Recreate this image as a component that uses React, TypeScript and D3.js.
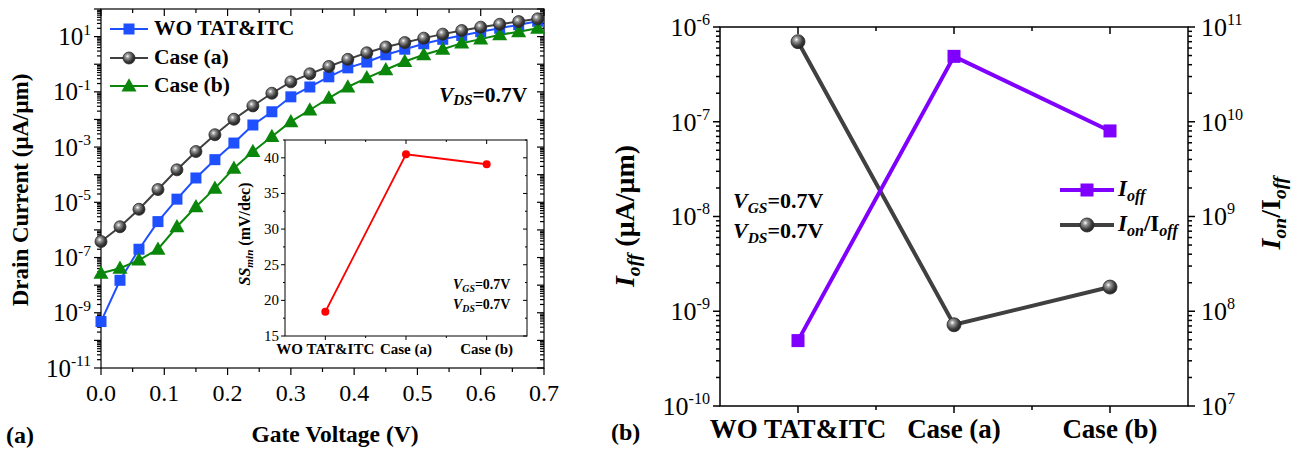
import * as d3 from 'd3';

// ---- panel (a): transfer curves ----
const gateVoltage = [0, 0.03, 0.06, 0.09, 0.12, 0.15, 0.18, 0.21, 0.24, 0.27, 0.3, 0.33,
    0.36, 0.39, 0.42, 0.45, 0.48, 0.51, 0.54, 0.57, 0.6, 0.63, 0.66, 0.69];
const woTatItc = [4.8e-10, 1.5e-8, 2e-7, 2e-6, 1.3e-5, 7.6e-5, 3.5e-4, 1.4e-3, 6.3e-3, 0.019, 0.066, 0.15,
    0.35, 0.74, 1.2, 2.2, 3.5, 5.5, 8, 11, 15, 20, 27, 36];
const caseA = [3.8e-7, 1.3e-6, 5.6e-6, 2.9e-5, 1.5e-4, 6.9e-4, 2.8e-3, 0.0102, 0.031, 0.089, 0.23, 0.45,
    0.83, 1.5, 2.6, 4.2, 6.1, 8.8, 12.3, 16.6, 22, 28, 35, 44];
const caseB = [2.7e-8, 4.1e-8, 8.1e-8, 2e-7, 1.3e-6, 6.9e-6, 3.2e-5, 1.7e-4, 6.9e-4, 2.4e-3, 8.3e-3, 0.022,
    0.059, 0.15, 0.32, 0.63, 1.25, 2.2, 3.5, 5.8, 8.1, 11.7, 15, 20];
const xTicksA = [0, 0.1, 0.2, 0.3, 0.4, 0.5, 0.6, 0.7];
const yLabelExpA = [1, -1, -3, -5, -7, -9, -11];

// ---- inset: SS_min ----
const cases = ['WO TAT&ITC', 'Case (a)', 'Case (b)'];
const ssMin = [18.4, 40.5, 39.1];
const insetTicks = [15, 20, 25, 30, 35, 40];

// ---- panel (b): Ioff and Ion/Ioff ----
const iOff = [4.9e-10, 4.9e-7, 8e-8];
const onOffRatio = [7e10, 7.2e7, 1.8e8];
const leftExpB = [-6, -7, -8, -9, -10];
const rightExpB = [11, 10, 9, 8, 7];

const FONT = "'Liberation Serif', 'Times New Roman', Tinos, 'DejaVu Serif', serif";
const BLUE = '#1f50ff';
const GREEN = '#0a870a';
const DARK = '#404040';
const PURPLE = '#8000ff';
const RED = '#ff0000';

const A = { x0: 101, x1: 544, y0: 9, y1: 368 };
const INSET = { x0: 285, x1: 527, y0: 140, y1: 336 };
const B = { x0: 720, x1: 1188, y0: 27, y1: 406 };

const decadeMinors = (lo: number, hi: number) => {
    const out: number[] = [];
    for (let e = lo; e < hi; e++) for (let k = 2; k <= 9; k++) out.push(k * Math.pow(10, e));
    return out;
};

// "10^e" label whose digits are vertically centred on y
const Pow = ({ x, y, e, size, anchor }: { x: number; y: number; e: number; size: number; anchor: string }) => (
    <text x={x} y={y + size * 0.34} fontSize={size} textAnchor={anchor}>
        10<tspan dy={-size * 0.42} fontSize={size * 0.62}>{e}</tspan>
    </text>
);

// italic symbol with italic subscript, optional text back on the baseline
const Sub = ({ main, sub, size, after, italicMain = true }:
    { main: string; sub: string; size: number; after?: string; italicMain?: boolean }) => (
    <>
        <tspan fontStyle={italicMain ? 'italic' : 'normal'}>{main}</tspan>
        <tspan dy={size * 0.25} fontSize={size * 0.7} fontStyle="italic">{sub}</tspan>
        {after ? <tspan dy={-size * 0.25}>{after}</tspan> : null}
    </>
);

const Sphere = ({ cx, cy, r }: { cx: number; cy: number; r: number }) => (
    <circle cx={cx} cy={cy} r={r} fill="url(#sphere)" stroke="#2a2a2a" strokeWidth={0.8} />
);

const Square = ({ cx, cy, s, fill }: { cx: number; cy: number; s: number; fill: string }) => (
    <rect x={cx - s / 2} y={cy - s / 2} width={s} height={s} fill={fill} />
);

const Tri = ({ cx, cy, s, fill }: { cx: number; cy: number; s: number; fill: string }) => (
    <path d={`M${cx},${cy - s * 0.6}L${cx + s * 0.58},${cy + s * 0.42}L${cx - s * 0.58},${cy + s * 0.42}Z`} fill={fill} />
);

export default function App() {
    // panel (a) scales
    const xA = d3.scaleLinear().domain([0, 0.7]).range([A.x0, A.x1]);
    const yA = d3.scaleLog().domain([1e-11, 1e2]).range([A.y1, A.y0]);
    const lineA = d3.line<number>().x((_, i) => xA(gateVoltage[i])).y(d => yA(d));
    const minorsA = decadeMinors(-11, 2);
    const majorsA = d3.range(-11, 3).map(e => Math.pow(10, e));

    // inset scales
    const xI = d3.scaleBand().domain(cases).range([INSET.x0, INSET.x1]);
    const xIc = (c: string) => (xI(c) ?? 0) + xI.bandwidth() / 2;
    const yI = d3.scaleLinear().domain([15, 42.5]).range([INSET.y1, INSET.y0]);
    const lineI = d3.line<number>().x((_, i) => xIc(cases[i])).y(d => yI(d));

    // panel (b) scales
    const xB = d3.scaleBand().domain(cases).range([B.x0, B.x1]);
    const xBc = (c: string) => (xB(c) ?? 0) + xB.bandwidth() / 2;
    const yBL = d3.scaleLog().domain([1e-10, 1e-6]).range([B.y1, B.y0]);
    const yBR = d3.scaleLog().domain([1e7, 1e11]).range([B.y1, B.y0]);
    const lineOff = d3.line<number>().x((_, i) => xBc(cases[i])).y(d => yBL(d));
    const lineRatio = d3.line<number>().x((_, i) => xBc(cases[i])).y(d => yBR(d));
    const minorsBL = decadeMinors(-10, -6);
    const minorsBR = decadeMinors(7, 11);
    const bMinorX = [B.x0 + xB.bandwidth(), B.x0 + 2 * xB.bandwidth()];

    return (
        <svg width={1301} height={454}
            style={{ position: 'absolute', left: 0, top: 0, background: '#fff', fontFamily: FONT }}>
            <defs>
                <radialGradient id="sphere" cx="38%" cy="35%" r="65%">
                    <stop offset="0%" stopColor="#ffffff" />
                    <stop offset="25%" stopColor="#9a9a9a" />
                    <stop offset="70%" stopColor="#3c3c3c" />
                    <stop offset="100%" stopColor="#222" />
                </radialGradient>
            </defs>

            {/* ================= panel (a) ================= */}
            <g stroke="#000" strokeWidth={1.2}>
                <rect x={A.x0} y={A.y0} width={A.x1 - A.x0} height={A.y1 - A.y0} fill="none" />
                {xTicksA.map(t => (
                    <g key={t}>
                        <line x1={xA(t)} x2={xA(t)} y1={A.y1} y2={A.y1 + 7} />
                        <line x1={xA(t)} x2={xA(t)} y1={A.y0} y2={A.y0 + 7} />
                    </g>
                ))}
                {xTicksA.slice(0, -1).map(t => (
                    <g key={'m' + t}>
                        <line x1={xA(t + 0.05)} x2={xA(t + 0.05)} y1={A.y1} y2={A.y1 + 4} />
                        <line x1={xA(t + 0.05)} x2={xA(t + 0.05)} y1={A.y0} y2={A.y0 + 4} />
                    </g>
                ))}
                {majorsA.map(v => (
                    <g key={'M' + v}>
                        <line x1={A.x0 - 7} x2={A.x0} y1={yA(v)} y2={yA(v)} />
                        <line x1={A.x1 - 7} x2={A.x1} y1={yA(v)} y2={yA(v)} />
                    </g>
                ))}
                {minorsA.map(v => (
                    <g key={'n' + v}>
                        <line x1={A.x0 - 4} x2={A.x0} y1={yA(v)} y2={yA(v)} />
                        <line x1={A.x1 - 4} x2={A.x1} y1={yA(v)} y2={yA(v)} />
                    </g>
                ))}
            </g>
            {xTicksA.map(t => (
                <text key={'xl' + t} x={xA(t)} y={401} fontSize={24} textAnchor="middle">
                    {t.toFixed(1)}
                </text>
            ))}
            {yLabelExpA.map(e => (
                <Pow key={'yl' + e} x={A.x0 - 10} y={yA(Math.pow(10, e))} e={e} size={25} anchor="end" />
            ))}
            <text x={335} y={437} fontSize={23.5} fontWeight="bold" textAnchor="middle" dominantBaseline="middle">
                Gate Voltage (V)
            </text>
            <text transform="translate(23,190) rotate(-90)" fontSize={23} fontWeight="bold" textAnchor="middle"
                dominantBaseline="middle">
                Drain Current (μA/μm)
            </text>
            <text x={6} y={437} fontSize={24} fontWeight="bold" dominantBaseline="middle">(a)</text>

            {/* curves */}
            <path d={lineA(woTatItc) ?? ''} fill="none" stroke={BLUE} strokeWidth={2} />
            <path d={lineA(caseB) ?? ''} fill="none" stroke={GREEN} strokeWidth={2} />
            <path d={lineA(caseA) ?? ''} fill="none" stroke={DARK} strokeWidth={2} />
            {woTatItc.map((v, i) => <Square key={'b' + i} cx={xA(gateVoltage[i])} cy={yA(v)} s={11} fill={BLUE} />)}
            {caseB.map((v, i) => <Tri key={'g' + i} cx={xA(gateVoltage[i])} cy={yA(v)} s={13} fill={GREEN} />)}
            {caseA.map((v, i) => <Sphere key={'k' + i} cx={xA(gateVoltage[i])} cy={yA(v)} r={6} />)}

            {/* legend (a) */}
            <g fontSize={21.5} fontWeight="bold">
                <line x1={110} x2={148} y1={29} y2={29} stroke={BLUE} strokeWidth={2} />
                <Square cx={129} cy={29} s={11} fill={BLUE} />
                <text x={154} y={30} dominantBaseline="middle">WO TAT&amp;ITC</text>
                <line x1={110} x2={148} y1={58} y2={58} stroke={DARK} strokeWidth={2} />
                <Sphere cx={129} cy={58} r={6} />
                <text x={154} y={59} dominantBaseline="middle">Case (a)</text>
                <line x1={110} x2={148} y1={86} y2={86} stroke={GREEN} strokeWidth={2} />
                <Tri cx={129} cy={86} s={13} fill={GREEN} />
                <text x={154} y={87} dominantBaseline="middle">Case (b)</text>
            </g>
            <text x={439} y={97} fontSize={21.5} fontWeight="bold" dominantBaseline="middle">
                <Sub main="V" sub="DS" size={21.5} after="=0.7V" />
            </text>

            {/* ================= inset ================= */}
            <rect x={INSET.x0} y={INSET.y0} width={INSET.x1 - INSET.x0} height={INSET.y1 - INSET.y0}
                fill="#fff" stroke="#000" strokeWidth={1} />
            <g stroke="#000" strokeWidth={1}>
                {insetTicks.map(t => (
                    <g key={'it' + t}>
                        <line x1={INSET.x0 - 4} x2={INSET.x0} y1={yI(t)} y2={yI(t)} />
                        <line x1={INSET.x1 - 4} x2={INSET.x1} y1={yI(t)} y2={yI(t)} />
                    </g>
                ))}
                {insetTicks.map(t => (
                    <g key={'im' + t}>
                        <line x1={INSET.x0 - 2} x2={INSET.x0} y1={yI(t + 2.5)} y2={yI(t + 2.5)} />
                        <line x1={INSET.x1 - 2} x2={INSET.x1} y1={yI(t + 2.5)} y2={yI(t + 2.5)} />
                    </g>
                ))}
                {cases.map(c => (
                    <g key={'ic' + c}>
                        <line x1={xIc(c)} x2={xIc(c)} y1={INSET.y1} y2={INSET.y1 + 4} />
                        <line x1={xIc(c)} x2={xIc(c)} y1={INSET.y0} y2={INSET.y0 + 4} />
                    </g>
                ))}
                {[INSET.x0 + xI.bandwidth(), INSET.x0 + 2 * xI.bandwidth()].map(x => (
                    <g key={'icm' + x}>
                        <line x1={x} x2={x} y1={INSET.y1} y2={INSET.y1 + 2} />
                        <line x1={x} x2={x} y1={INSET.y0} y2={INSET.y0 + 2} />
                    </g>
                ))}
            </g>
            {insetTicks.map(t => (
                <text key={'itl' + t} x={INSET.x0 - 6} y={yI(t) + 5} fontSize={15} textAnchor="end">{t}</text>
            ))}
            {cases.map(c => (
                <text key={'icl' + c} x={xIc(c)} y={351} fontSize={15} fontWeight="bold" textAnchor="middle"
                    dominantBaseline="middle">{c}</text>
            ))}
            <text transform="translate(246,234) rotate(-90)" fontSize={16} fontWeight="bold" textAnchor="middle"
                dominantBaseline="middle">
                <Sub main="SS" sub="min" size={16} after=" (mV/dec)" />
            </text>
            <path d={lineI(ssMin) ?? ''} fill="none" stroke={RED} strokeWidth={1.8} />
            {ssMin.map((v, i) => <circle key={'r' + i} cx={xIc(cases[i])} cy={yI(v)} r={4} fill={RED} />)}
            <g fontSize={14} fontWeight="bold">
                <text x={453} y={286} dominantBaseline="middle">
                    <Sub main="V" sub="GS" size={14} after="=0.7V" />
                </text>
                <text x={453} y={306} dominantBaseline="middle">
                    <Sub main="V" sub="DS" size={14} after="=0.7V" />
                </text>
            </g>

            {/* ================= panel (b) ================= */}
            <g stroke="#000" strokeWidth={1.5}>
                <rect x={B.x0} y={B.y0} width={B.x1 - B.x0} height={B.y1 - B.y0} fill="none" />
                {cases.map(c => (
                    <g key={'bc' + c}>
                        <line x1={xBc(c)} x2={xBc(c)} y1={B.y1} y2={B.y1 + 7} />
                        <line x1={xBc(c)} x2={xBc(c)} y1={B.y0} y2={B.y0 + 7} />
                    </g>
                ))}
                {bMinorX.map(x => (
                    <g key={'bm' + x}>
                        <line x1={x} x2={x} y1={B.y1} y2={B.y1 + 4} />
                        <line x1={x} x2={x} y1={B.y0} y2={B.y0 + 4} />
                    </g>
                ))}
                {leftExpB.map(e => (
                    <line key={'blM' + e} x1={B.x0 - 7} x2={B.x0} y1={yBL(Math.pow(10, e))} y2={yBL(Math.pow(10, e))} />
                ))}
                {minorsBL.map(v => (
                    <line key={'bln' + v} x1={B.x0 - 4} x2={B.x0} y1={yBL(v)} y2={yBL(v)} />
                ))}
                {rightExpB.map(e => (
                    <line key={'brM' + e} x1={B.x1} x2={B.x1 + 7} y1={yBR(Math.pow(10, e))} y2={yBR(Math.pow(10, e))} />
                ))}
                {minorsBR.map(v => (
                    <line key={'brn' + v} x1={B.x1} x2={B.x1 + 4} y1={yBR(v)} y2={yBR(v)} />
                ))}
            </g>
            {leftExpB.map(e => (
                <Pow key={'bll' + e} x={B.x0 - 10} y={yBL(Math.pow(10, e))} e={e} size={26} anchor="end" />
            ))}
            {rightExpB.map(e => (
                <Pow key={'brl' + e} x={B.x1 + 13} y={yBR(Math.pow(10, e))} e={e} size={26} anchor="start" />
            ))}
            {cases.map(c => (
                <text key={'bcl' + c} x={xBc(c)} y={432} fontSize={27} fontWeight="bold" textAnchor="middle"
                    dominantBaseline="middle">{c}</text>
            ))}
            <text x={611} y={434} fontSize={24} fontWeight="bold" dominantBaseline="middle">(b)</text>
            <text transform="translate(628,216) rotate(-90)" fontSize={28} fontWeight="bold" textAnchor="middle"
                dominantBaseline="middle">
                <Sub main="I" sub="off" size={28} after=" (μA/μm)" />
            </text>
            <text transform="translate(1274,213) rotate(-90)" fontSize={28} fontWeight="bold" textAnchor="middle"
                dominantBaseline="middle">
                <Sub main="I" sub="on" size={28} after="/I" />
                <tspan dy={28 * 0.25} fontSize={28 * 0.7} fontStyle="italic">off</tspan>
            </text>

            <path d={lineRatio(onOffRatio) ?? ''} fill="none" stroke={DARK} strokeWidth={4} />
            <path d={lineOff(iOff) ?? ''} fill="none" stroke={PURPLE} strokeWidth={4} />
            {iOff.map((v, i) => <Square key={'p' + i} cx={xBc(cases[i])} cy={yBL(v)} s={13} fill={PURPLE} />)}
            {onOffRatio.map((v, i) => <Sphere key={'s' + i} cx={xBc(cases[i])} cy={yBR(v)} r={7} />)}

            {/* legend (b) */}
            <line x1={1060} x2={1114} y1={190} y2={190} stroke={PURPLE} strokeWidth={4} />
            <Square cx={1087} cy={190} s={13} fill={PURPLE} />
            <text x={1118} y={191} fontSize={23} fontWeight="bold" dominantBaseline="middle">
                <Sub main="I" sub="off" size={23} />
            </text>
            <line x1={1060} x2={1114} y1={225} y2={225} stroke={DARK} strokeWidth={4} />
            <Sphere cx={1087} cy={225} r={7} />
            <text x={1118} y={226} fontSize={23} fontWeight="bold" dominantBaseline="middle">
                <Sub main="I" sub="on" size={23} after="/I" />
                <tspan dy={23 * 0.25} fontSize={23 * 0.7} fontStyle="italic">off</tspan>
            </text>

            <g fontSize={22} fontWeight="bold">
                <text x={733} y={203} dominantBaseline="middle">
                    <Sub main="V" sub="GS" size={22} after="=0.7V" />
                </text>
                <text x={733} y={233} dominantBaseline="middle">
                    <Sub main="V" sub="DS" size={22} after="=0.7V" />
                </text>
            </g>
        </svg>
    );
}
